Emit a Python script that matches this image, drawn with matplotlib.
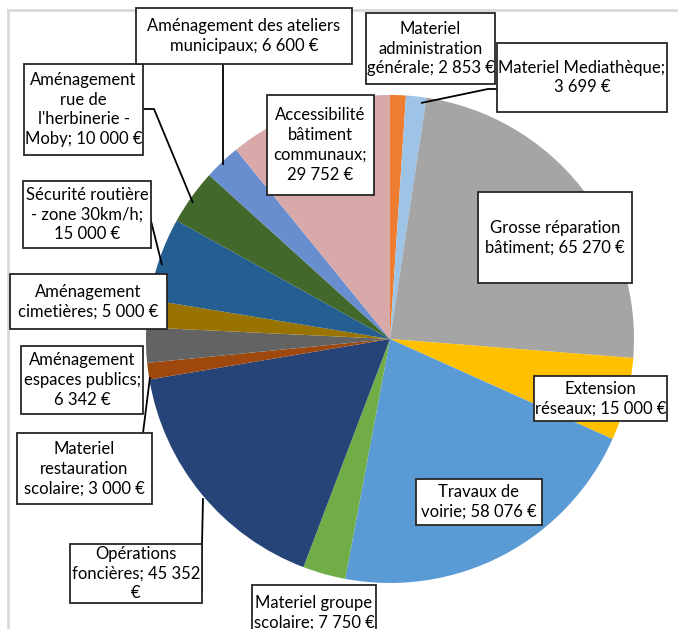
import matplotlib
matplotlib.use("Agg")
import matplotlib.pyplot as plt
from matplotlib.patches import Rectangle

# ── données ──
categories = ["Materiel administration générale", "Materiel Mediathèque",
              "Grosse réparation bâtiment", "Extension réseaux", "Travaux de voirie",
              "Materiel groupe scolaire", "Opérations foncières",
              "Materiel restauration scolaire", "Aménagement espaces publics",
              "Aménagement cimetières", "Sécurité routière - zone 30km/h",
              "Aménagement rue de l'herbinerie - Moby",
              "Aménagement des ateliers municipaux", "Accessibilité bâtiment communaux"]
values = [2853, 3699, 65270, 15000, 58076, 7750, 45352, 3000, 6342, 5000,
          15000, 10000, 6600, 29752]
colors = ["#ED7D31", "#9DC3E6", "#A5A5A5", "#FFC000", "#5B9BD5", "#70AD47",
          "#264478", "#9E480E", "#636363", "#997300", "#255E91", "#43682B",
          "#698ED0", "#D9A8A8"]

# texte des étiquettes (retours à la ligne comme dans Excel)
label_fmt = ["Materiel\nadministration\ngénérale; {n} €",
             "Materiel Mediathèque;\n{n} €",
             "Grosse réparation\nbâtiment; {n} €",
             "Extension\nréseaux; {n} €",
             "Travaux de\nvoirie; {n} €",
             "Materiel groupe\nscolaire; {n} €",
             "Opérations\nfoncières; {n}\n€",
             "Materiel\nrestauration\nscolaire; {n} €",
             "Aménagement\nespaces publics;\n{n} €",
             "Aménagement\ncimetières; {n} €",
             "Sécurité routière\n- zone 30km/h;\n{n} €",
             "Aménagement\nrue de\nl'herbinerie -\nMoby; {n} €",
             "Aménagement des ateliers\nmunicipaux; {n} €",
             "Accessibilité\nbâtiment\ncommunaux;\n{n} €"]

# ── mise en page (pixels image, y vers le bas) ──
W, H = 678, 629
boxes = [(366, 13, 495, 84), (497, 43, 667, 112), (478, 192, 632, 283),
         (534, 376, 667, 421), (416, 479, 542, 525), (252, 585, 376, 640),
         (70, 544, 202, 603), (17, 433, 152, 504), (21, 346, 143, 414),
         (10, 274, 167, 329), (23, 181, 151, 248), (24, 64, 143, 155),
         (136, 8, 352, 64), (267, 95, 374, 195)]
leaders = {1: [(499, 89), (488, 89), (421, 103)],
           6: [(202, 593), (202, 545), (203, 498)],
           7: [(143, 433), (150, 377)],
           10: [(150, 217), (162, 265)],
           11: [(143, 109), (154, 109), (193, 203)],
           12: [(223, 64), (223, 165)]}
CX, CY, R = 390, 339, 244


def fy(y):
    return H - y


fig = plt.figure(figsize=(W / 100, H / 100), dpi=100)
ax = fig.add_axes([0, 0, 1, 1])
ax.set_xlim(0, W); ax.set_ylim(0, H)
ax.axis("off")

ax.pie(values, colors=colors, startangle=90, counterclock=False,
       center=(CX, fy(CY)), radius=R, frame=True,
       wedgeprops=dict(linewidth=0))
ax.set_xlim(0, W); ax.set_ylim(0, H)
ax.set_aspect("auto")
ax.axis("off")

# cadre gris de la zone graphique
ax.plot([8, W], [fy(10), fy(10)], color="#D9D9D9", lw=2, zorder=1)
ax.plot([8, 8], [fy(10), 0], color="#D9D9D9", lw=2, zorder=1)

for i, pts in leaders.items():
    ax.plot([p[0] for p in pts], [fy(p[1]) for p in pts], color="black",
            lw=1.3, zorder=3, solid_capstyle="butt")

for v, fmt, (x0, y0, x1, y1) in zip(values, label_fmt, boxes):
    ax.add_patch(Rectangle((x0, fy(y1)), x1 - x0, y1 - y0, facecolor="white",
                           edgecolor="#262626", lw=1.3, zorder=4))
    txt = fmt.format(n=f"{v:,}".replace(",", " "))
    ax.text((x0 + x1) / 2, fy((y0 + y1) / 2), txt, ha="center", va="center",
            multialignment="center", fontsize=12, family="Lato",
            linespacing=1.3, color="black", zorder=5)

fig.savefig("out.png", dpi=100)
